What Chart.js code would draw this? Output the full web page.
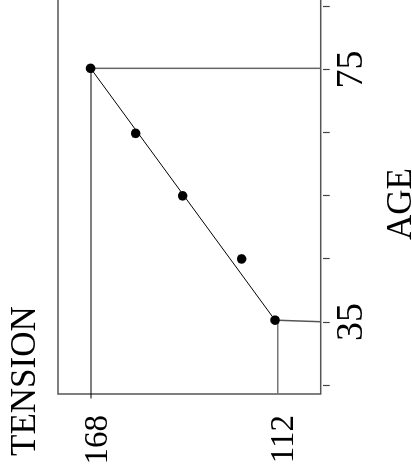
<!DOCTYPE html>
<html><head><meta charset="utf-8">
<script src="https://cdn.jsdelivr.net/npm/chart.js@4.4.1/dist/chart.umd.min.js"></script>
<style>
html,body{margin:0;padding:0;background:#fff;overflow:hidden;width:412px;height:472px;}
#wrap{position:relative;width:412px;height:472px;overflow:hidden;background:#fff;}
#c{position:absolute;left:0;top:0;transform-origin:0 0;transform:translate(0px,472px) rotate(-90deg);}
</style></head><body>
<div id="wrap"><canvas id="c" width="565" height="412"></canvas></div>
<script>
// Data
const ages = [75.2, 64.9, 55.0, 45.0, 35.3];
const tensions = [168.1, 154.6, 140.5, 122.8, 112.8];
const fitAges = [75.2, 35.3];
const fitTensions = [168.1, 112.8];
const ageTicks = [25, 35, 45, 55, 65, 75, 85, 95];
const ageTickLabels = ['', '35', '', '', '', '75', '', ''];
const tensionTicks = [112, 168];
const tensionTickLabels = ['112', '168'];
const ageRange = [23.6, 100];
const tensionRange = [99.1, 177.9];
// reading guides (drop lines)
const drop168V = {ages: [75.2, 22.9], tensions: [168, 168]};
const drop168H = {ages: [75.2, 75.2], tensions: [168.1, tensionRange[0]]};
const drop112V = {ages: [35.2, ageRange[0]], tensions: [112, 112]};
const drop112H = {ages: [35.3, 35.05], tensions: [112.8, tensionRange[0]]};

const pts = (xs, ys) => xs.map((x, i) => ({x: x, y: ys[i]}));
const FONT = '"Liberation Serif", "DejaVu Serif", serif';

const boxPlugin = {
  id: 'box',
  beforeDatasetsDraw(chart) {
    const a = chart.chartArea, ctx = chart.ctx;
    ctx.save();
    ctx.strokeStyle = '#555';
    ctx.lineWidth = 1.5;
    ctx.strokeRect(a.left, a.top, a.right - a.left, a.bottom - a.top);
    ctx.restore();
  },
  afterDraw(chart) {
    const ctx = chart.ctx;
    ctx.save();
    ctx.fillStyle = '#000';
    ctx.font = '35px ' + FONT;
    ctx.textBaseline = 'alphabetic';
    ctx.textAlign = 'left';
    ctx.fillText('TENSION', 16, 35);
    ctx.textAlign = 'center';
    ctx.fillText('AGE', 268, 411);
    ctx.restore();
  }
};

const lineDs = (d, color, width, clip) => ({
  data: pts(d.ages, d.tensions), showLine: true, pointRadius: 0,
  borderColor: color, borderWidth: width, clip: clip, order: 2
});

new Chart(document.getElementById('c'), {
  type: 'scatter',
  data: {
    datasets: [
      {data: pts(ages, tensions), pointRadius: 4.8, pointHoverRadius: 4.8,
       backgroundColor: '#000', borderColor: '#000', borderWidth: 0, order: 0},
      {data: pts(fitAges, fitTensions), showLine: true, pointRadius: 0,
       borderColor: '#000', borderWidth: 1, order: 1},
      lineDs(drop168V, '#000', 1, false),
      lineDs(drop168H, '#666', 1.5, true),
      lineDs(drop112V, '#777', 1.5, true),
      lineDs(drop112H, '#555', 1.5, true)
    ]
  },
  options: {
    responsive: false, animation: false, devicePixelRatio: 1,
    layout: {padding: {top: 58, left: 0, right: 0, bottom: 0}},
    plugins: {legend: {display: false}, tooltip: {enabled: false}, title: {display: false}},
    scales: {
      x: {
        type: 'linear', position: 'bottom', min: ageRange[0], max: ageRange[1],
        afterBuildTicks(s) { s.ticks = ageTicks.map(v => ({value: v})); },
        afterFit(s) { s.height = 91.3; },
        border: {display: false},
        grid: {drawOnChartArea: false, drawTicks: true, tickLength: 9,
               tickColor: '#444', tickWidth: 1.2,
               tickBorderDash: [7, 2], tickBorderDashOffset: 7},
        ticks: {
          autoSkip: false, maxRotation: 0, padding: 0, color: '#000',
          font: {family: FONT, size: 38},
          callback(v) { const i = ageTicks.indexOf(v); return i >= 0 ? ageTickLabels[i] : ''; }
        }
      },
      y: {
        type: 'linear', position: 'left', min: tensionRange[0], max: tensionRange[1],
        afterBuildTicks(s) { s.ticks = tensionTicks.map(v => ({value: v})); },
        afterFit(s) { s.width = 78; },
        border: {display: false},
        grid: {display: false, drawTicks: false},
        ticks: {
          autoSkip: false, padding: 21, labelOffset: 7, color: '#000',
          font: {family: FONT, size: 33},
          callback(v) { const i = tensionTicks.indexOf(v); return i >= 0 ? tensionTickLabels[i] : ''; }
        }
      }
    }
  },
  plugins: [boxPlugin]
});
</script>
</body></html>
